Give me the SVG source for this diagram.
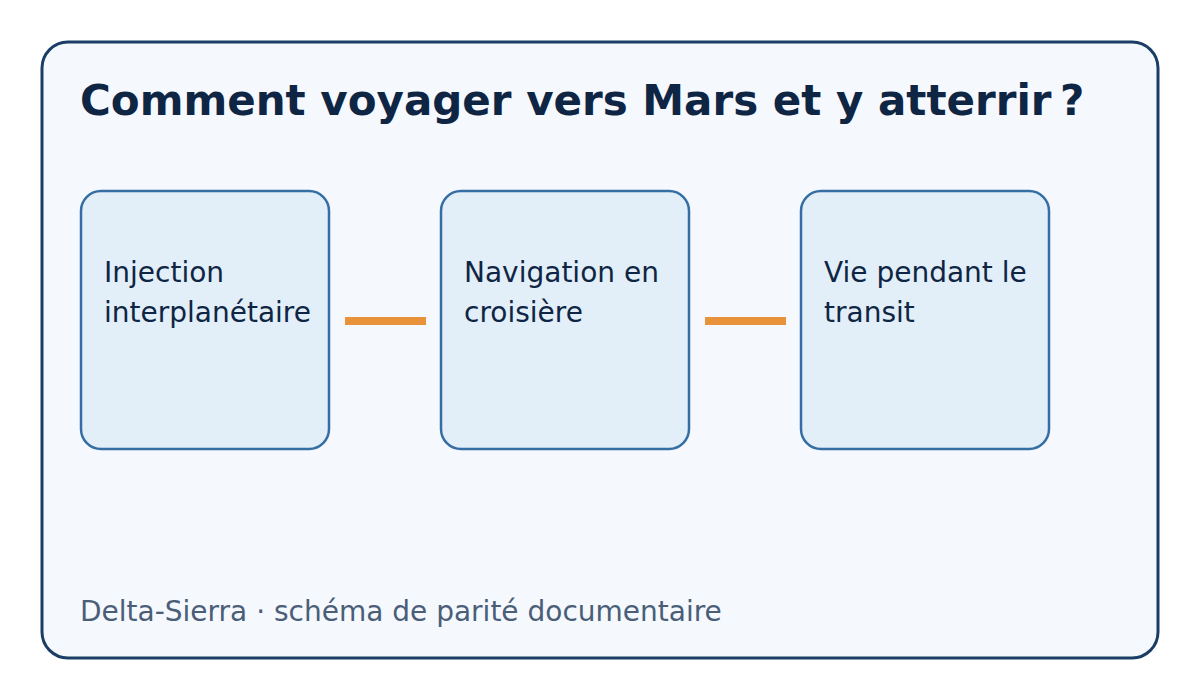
<svg xmlns="http://www.w3.org/2000/svg" width="1200" height="700" viewBox="0 0 1200 700">
<style>
.node rect{fill:#e2eef8;stroke:#356ea3;stroke-width:2.5}
.label{font-family:"DejaVu Sans",sans-serif;font-size:28px;fill:#0f2544}
.edge{stroke:#e8923a;stroke-width:8;fill:none}
</style>
<rect width="1200" height="700" fill="#ffffff"/>
<g id="frame">
<rect x="42" y="42" width="1116" height="616" rx="26" fill="#f5f8fd" stroke="#1b3e66" stroke-width="3"/>
<text x="80" y="115" font-family="DejaVu Sans,sans-serif" font-size="42" font-weight="bold" fill="#0f2544">Comment voyager vers Mars et y atterrir&#8239;?</text>
<text x="80" y="621" font-family="DejaVu Sans,sans-serif" font-size="28" fill="#4a5e78">Delta-Sierra · schéma de parité documentaire</text>
</g>
<g id="connectors">
<line class="edge" x1="345" y1="321" x2="426" y2="321"/>
<line class="edge" x1="705" y1="321" x2="786" y2="321"/>
</g>
<g id="node1" class="node">
<rect x="81" y="191" width="248" height="258" rx="20"/>
<text class="label" x="104" y="282">Injection</text>
<text class="label" x="104" y="322">interplanétaire</text>
</g>
<g id="node2" class="node">
<rect x="441" y="191" width="248" height="258" rx="20"/>
<text class="label" x="464" y="282">Navigation en</text>
<text class="label" x="464" y="322">croisière</text>
</g>
<g id="node3" class="node">
<rect x="801" y="191" width="248" height="258" rx="20"/>
<text class="label" x="824" y="282">Vie pendant le</text>
<text class="label" x="824" y="322">transit</text>
</g>
</svg>
